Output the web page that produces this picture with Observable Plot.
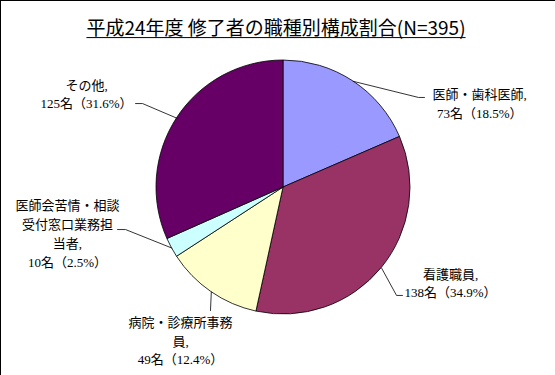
<!DOCTYPE html>
<html><head><meta charset="utf-8">
<script src="https://cdn.jsdelivr.net/npm/d3@7"></script>
<script src="https://cdn.jsdelivr.net/npm/@observablehq/plot@0.6"></script>
<style>body{margin:0;background:#fff}</style>
</head><body><div id="chart"></div>
<script>
// ---- data ----
const title = "平成24年度 修了者の職種別構成割合(N=395)";
const categories = ["医師・歯科医師", "看護職員", "病院・診療所事務員", "医師会苦情・相談受付窓口業務担当者", "その他"];
const labelNames = ["医師・歯科医師", "看護職員", "病院・診療所事務\n員", "医師会苦情・相談\n受付窓口業務担\n当者", "その他"];
const counts = [73, 138, 49, 10, 125];
const percents = [18.5, 34.9, 12.4, 2.5, 31.6];

// ---- styles / layout ----
const sliceColors = ["#9999FF", "#993366", "#FFFFCC", "#CCFFFF", "#660066"];
const labelAt = [[1.545, 0.669], [1.315, -0.744], [-0.811, -1.197], [-1.701, -0.354], [-1.551, 0.744]];
const leaderBend = [
  [[1.063, 0.709], [1.110, 0.709]],
  [[0.890, -0.850], [0.937, -0.850]],
  [[-0.575, -0.969]],
  [[-1.244, -0.331], [-1.307, -0.331]],
  [[-1.110, 0.661], [-1.165, 0.661]]
];

const rows = categories.map((c, i) => ({
  category: c, count: counts[i], percent: percents[i],
  label: `${labelNames[i]},\n${counts[i]}名（${percents[i]}%）`,
  lx: labelAt[i][0], ly: labelAt[i][1]
}));
const arcs = d3.pie().sort(null).value(d => d.count)(rows);
const leaders = [];
arcs.forEach((a, i) => {
  const mid = (a.startAngle + a.endAngle) / 2;
  leaders.push({x: Math.sin(mid), y: Math.cos(mid), z: i});
  leaderBend[i].forEach(([x, y]) => leaders.push({x, y, z: i}));
});

function slices(index, scales) {
  const cx = scales.x(0), cy = scales.y(0), R = scales.x(1) - cx;
  const arc = d3.arc().innerRadius(0).outerRadius(R);
  const g = d3.create("svg:g").attr("transform", `translate(${cx},${cy})`);
  g.selectAll("path").data(arcs).join("path")
    .attr("d", arc)
    .attr("fill", (d, i) => sliceColors[i])
    .attr("stroke", "#000")
    .attr("stroke-width", 0.8);
  return g.node();
}

const chart = Plot.plot({
  width: 555, height: 375,
  margin: 0,
  x: {domain: [-1, 1], range: [156, 410], axis: null},
  y: {domain: [-1, 1], range: [314, 60], axis: null},
  style: {background: "#fff", fontFamily: "'Noto Sans CJK JP', sans-serif", overflow: "visible"},
  marks: [
    slices,
    Plot.line(leaders, {x: "x", y: "y", z: "z", stroke: "#000", strokeWidth: 0.8}),
    Plot.text(rows, {x: "lx", y: "ly", text: "label", fontSize: 13, lineHeight: 1.45,
      fontFamily: "'Liberation Serif', 'Noto Sans CJK JP', serif", fill: "#000", textAnchor: "middle"}),
    Plot.text([title], {frameAnchor: "top", dy: 28, dx: -2, fontSize: 19, fill: "#000",
      lineAnchor: "middle", fontFamily: "'Noto Sans CJK JP', sans-serif"}),
    Plot.frame({stroke: "#000"})
  ]
});
document.getElementById("chart").append(chart);
// underline the title
const tt = Array.from(chart.querySelectorAll("text")).find(t => t.textContent === title);
if (tt) {
  const b = tt.getBBox();
  const line = document.createElementNS("http://www.w3.org/2000/svg", "line");
  const uy = b.y + b.height - 2;
  line.setAttribute("x1", b.x); line.setAttribute("x2", b.x + b.width);
  line.setAttribute("y1", uy); line.setAttribute("y2", uy);
  line.setAttribute("stroke", "#000"); line.setAttribute("stroke-width", 1);
  if (tt.getAttribute("transform")) line.setAttribute("transform", tt.getAttribute("transform"));
  tt.parentNode.insertBefore(line, tt.nextSibling);
}
</script>
</body></html>
